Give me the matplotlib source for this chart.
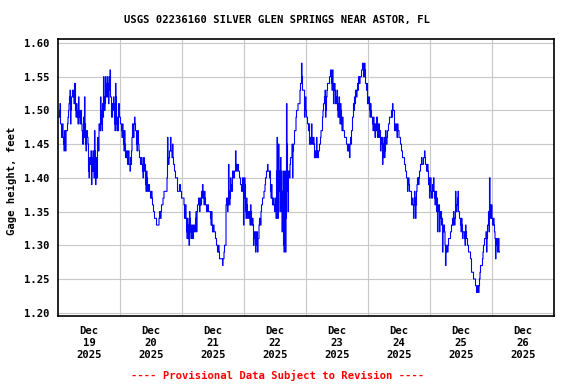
import numpy as np
import matplotlib
matplotlib.use("Agg")
import matplotlib.pyplot as plt

# gage height readings, hundredths of a foot, (low, high) per plotted column
# one column = 1/62 day, columns counted from midnight of each day
dec19 = [(149, 150), (148, 151), (146, 148), (146, 148), (145, 146), (144, 147), (144, 147), (147, 147),
         (147, 148), (149, 150), (151, 152), (148, 153), (150, 152), (152, 153), (152, 153), (151, 154),
         (150, 154), (149, 151), (149, 150), (148, 152), (149, 150), (148, 150), (148, 150), (145, 147),
         (145, 149), (146, 152), (145, 148), (144, 147), (146, 147), (141, 145), (140, 143), (142, 143),
         (139, 144), (141, 143), (141, 144), (140, 147), (139, 144), (140, 143), (140, 146), (144, 145),
         (148, 148), (147, 152), (148, 150), (147, 151), (149, 155), (150, 152), (151, 155), (152, 154),
         (152, 155), (151, 154), (153, 155), (152, 156), (149, 152), (149, 151), (150, 152), (148, 151),
         (147, 154), (148, 152), (147, 149), (147, 151), (149, 151), (148, 149)]
dec20 = [(147, 148), (146, 148), (145, 147), (144, 147), (143, 145), (143, 144), (142, 144), (142, 144),
         (142, 142), (141, 143), (142, 144), (146, 148), (146, 147), (148, 149), (147, 148), (145, 147),
         (144, 147), (145, 147), (143, 144), (142, 143), (142, 143), (141, 142), (140, 143), (141, 143),
         (139, 142), (138, 141), (138, 140), (138, 139), (138, 139), (137, 138), (137, 138), (136, 137),
         (135, 136), (134, 135), (134, 134), (133, 134), (133, 133), (133, 133), (134, 135), (134, 135),
         (135, 136), (136, 136), (137, 137), (138, 138), (138, 138), (138, 138), (140, 146), (142, 143),
         (143, 144), (144, 146), (144, 144), (143, 145), (142, 143), (141, 142), (140, 141), (140, 140),
         (138, 140), (138, 138), (138, 139), (138, 139), (137, 138), (137, 137)]
dec21 = [(137, 137), (134, 136), (134, 136), (132, 134), (131, 134), (131, 133), (130, 135), (132, 134),
         (131, 133), (131, 133), (131, 133), (132, 133), (132, 134), (132, 135), (135, 136), (136, 137),
         (135, 137), (136, 137), (136, 138), (137, 139), (137, 138), (136, 138), (136, 137), (135, 136),
         (135, 136), (135, 136), (135, 135), (134, 135), (133, 135), (132, 133), (132, 133), (132, 132),
         (131, 132), (130, 131), (129, 130), (129, 130), (128, 129), (128, 128), (128, 128), (127, 128),
         (128, 128), (129, 130), (130, 130), (136, 137), (135, 137), (136, 142), (136, 138), (137, 140),
         (138, 139), (138, 141), (140, 141), (140, 141), (141, 144), (141, 142), (141, 142), (141, 142),
         (140, 141), (139, 140), (138, 139), (138, 140), (133, 140), (137, 140)]
dec22 = [(135, 139), (134, 137), (134, 136), (134, 135), (134, 135), (133, 136), (133, 135), (133, 134),
         (130, 133), (131, 132), (129, 132), (130, 132), (129, 132), (131, 131), (133, 134), (133, 134),
         (135, 136), (136, 137), (137, 137), (138, 138), (139, 140), (140, 141), (141, 142), (141, 141),
         (140, 141), (138, 141), (137, 139), (136, 137), (136, 137), (135, 136), (136, 137), (134, 141),
         (134, 146), (134, 145), (138, 141), (135, 143), (135, 141), (132, 138), (130, 141), (129, 141),
         (129, 141), (134, 151), (138, 145), (135, 141), (140, 141), (142, 143), (143, 143), (140, 145),
         (144, 145), (145, 147), (147, 147), (149, 150), (150, 150), (151, 151), (151, 151), (153, 154),
         (154, 157), (153, 155), (153, 153), (149, 153), (150, 152), (149, 150)]
dec23 = [(148, 149), (147, 148), (145, 148), (145, 146), (145, 148), (145, 146), (145, 146), (143, 145),
         (143, 144), (143, 146), (143, 144), (143, 144), (144, 145), (145, 146), (147, 147), (147, 149),
         (150, 151), (151, 152), (149, 153), (150, 152), (153, 154), (154, 154), (154, 155), (155, 156),
         (154, 156), (153, 156), (151, 154), (153, 154), (151, 153), (151, 152), (150, 153), (149, 151),
         (149, 152), (148, 151), (148, 150), (147, 149), (147, 147), (146, 147), (146, 146), (145, 146),
         (144, 145), (144, 145), (143, 144), (145, 146), (145, 147), (147, 149), (149, 151), (150, 152),
         (151, 153), (152, 153), (153, 154), (153, 155), (154, 155), (155, 155), (155, 156), (156, 157),
         (155, 157), (155, 157), (154, 156), (153, 154), (151, 154), (151, 152)]
dec24 = [(150, 152), (149, 151), (149, 150), (148, 149), (147, 149), (147, 148), (146, 148), (147, 149),
         (146, 149), (146, 148), (146, 148), (144, 147), (145, 146), (142, 146), (143, 145), (143, 146),
         (144, 147), (145, 146), (146, 147), (147, 148), (148, 149), (149, 149), (149, 150), (149, 151),
         (150, 150), (147, 150), (147, 148), (147, 148), (146, 148), (147, 147), (146, 146), (145, 146),
         (144, 145), (143, 144), (143, 143), (142, 143), (141, 142), (140, 141), (138, 140), (139, 140),
         (138, 139), (138, 138), (136, 138), (136, 137), (134, 136), (136, 138), (134, 137), (136, 138),
         (139, 140), (139, 140), (140, 141), (141, 142), (142, 143), (142, 142), (142, 143), (143, 144),
         (142, 143), (141, 142), (141, 142), (139, 141), (137, 140), (138, 140)]
dec25 = [(137, 138), (137, 139), (138, 140), (137, 138), (136, 138), (135, 138), (132, 137), (135, 136),
         (132, 136), (134, 135), (133, 135), (129, 134), (132, 133), (132, 133), (127, 130), (129, 130),
         (129, 130), (130, 131), (131, 131), (131, 132), (132, 133), (133, 134), (133, 135), (133, 134),
         (134, 138), (135, 136), (136, 137), (135, 138), (134, 135), (133, 134), (132, 134), (131, 133),
         (132, 132), (131, 132), (130, 133), (131, 132), (130, 131), (129, 130), (129, 129), (128, 129),
         (126, 128), (126, 126), (125, 126), (125, 125), (124, 125), (123, 124), (123, 124), (123, 124),
         (124, 125), (126, 127), (127, 127), (127, 128), (129, 130), (130, 131), (131, 131), (129, 132),
         (131, 133), (133, 135), (132, 140), (134, 136), (134, 136), (133, 134)]
dec26 = [(133, 134), (132, 133), (128, 131), (130, 131), (129, 131), (130, 131), (129, 129)]

days = [dec19, dec20, dec21, dec22, dec23, dec24, dec25, dec26]
day_labels = ["Dec\n19\n2025", "Dec\n20\n2025", "Dec\n21\n2025", "Dec\n22\n2025",
              "Dec\n23\n2025", "Dec\n24\n2025", "Dec\n25\n2025", "Dec\n26\n2025"]

# build the trace: two points per column, going through low and high
xs, ys = [], []
prev = None
for d, cols in enumerate(days):
    for k, (lo, hi) in enumerate(cols):
        t = d + (k + 1) / 62.0
        if prev is not None and abs(prev - hi) < abs(prev - lo):
            pair = (hi, lo)
        else:
            pair = (lo, hi)
        xs += [t, t + 0.5 / 62.0]
        ys += [pair[0] / 100.0, pair[1] / 100.0]
        prev = pair[1]

mono = "DejaVu Sans Mono"
fs = 7.6

fig = plt.figure(figsize=(5.76, 3.84), dpi=100)
ax = fig.add_axes([58 / 576, 68 / 384, 496 / 576, 276.7 / 384])

ax.plot(xs, ys, color="#0000FF", linewidth=0.8, drawstyle="steps-post")

ax.set_xlim(0, 8)
ax.set_ylim(1.1951, 1.6055)
ax.set_xticks(np.arange(1, 8))
ax.set_xticklabels([])
ax.set_xticks(np.arange(8) + 0.5, minor=True)
ax.set_xticklabels(day_labels, minor=True)
ax.set_yticks(np.arange(1.20, 1.601, 0.05))
ax.set_yticklabels(["%.2f" % v for v in np.arange(1.20, 1.601, 0.05)])
ax.grid(True, which="major", color="#C8C8C8", linewidth=0.8)
ax.set_axisbelow(True)

ax.tick_params(axis="both", which="both", length=0)
ax.tick_params(axis="x", which="minor", pad=7)
ax.tick_params(axis="y", pad=6)
for lab in ax.get_xticklabels(minor=True):
    lab.set_fontfamily(mono)
    lab.set_fontweight("bold")
    lab.set_fontsize(fs)
    lab.set_linespacing(1.25)
for lab in ax.get_yticklabels():
    lab.set_fontfamily(mono)
    lab.set_fontweight("bold")
    lab.set_fontsize(fs)

for s in ax.spines.values():
    s.set_linewidth(1.2)
    s.set_color("black")

fig.text(12 / 576, 1 - 181 / 384, "Gage height, feet", rotation=90, ha="center", va="center",
         fontfamily=mono, fontweight="bold", fontsize=fs)
fig.text(277.5 / 576, 1 - 20 / 384, "USGS 02236160 SILVER GLEN SPRINGS NEAR ASTOR, FL",
         ha="center", va="center", fontfamily=mono, fontweight="bold", fontsize=fs)
fig.text(277.5 / 576, 1 - 375 / 384, "---- Provisional Data Subject to Revision ----",
         ha="center", va="center", color="#FF0000", fontfamily=mono, fontweight="bold", fontsize=fs)

fig.savefig("out.png", dpi=100)
